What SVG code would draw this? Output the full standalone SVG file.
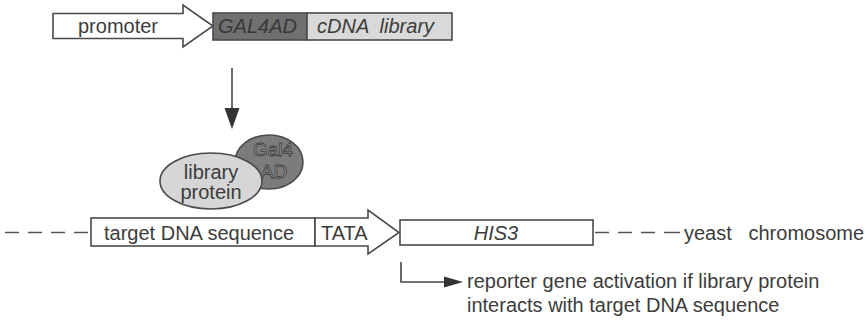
<svg xmlns="http://www.w3.org/2000/svg" width="868" height="321" viewBox="0 0 868 321">
  <style>
    .t { font-family: "Liberation Sans", Arial, sans-serif; font-size: 20px; fill: #3c3c3c; }
    .i { font-style: italic; }
    .box { stroke: #4a4a4a; stroke-width: 1.6; }
    .ln { stroke: #444; stroke-width: 1.6; fill: none; }
    .dash { stroke: #555; stroke-width: 1.6; stroke-dasharray: 14 9; fill: none; }
    .ad { fill: #a4a4a4; stroke: #3a3a3a; stroke-width: 0.8; font-size: 19px; }
  </style>
  <rect width="868" height="321" fill="#ffffff"/>

  <!-- expression construct: promoter + GAL4AD-cDNA fusion -->
  <g id="promoter">
    <polygon class="box" fill="#ffffff" points="53,13.5 183,13.5 183,5 213,26 183,47 183,38.5 53,38.5"/>
    <text class="t" x="78" y="33">promoter</text>
  </g>
  <g id="gal4ad-segment">
    <rect class="box" x="213" y="13" width="94" height="27" fill="#707070"/>
    <text class="t i" x="218" y="33" style="fill:#383838">GAL4AD</text>
  </g>
  <g id="cdna-library">
    <rect class="box" x="307" y="13" width="145" height="27" fill="#d9d9d9"/>
    <text class="t i" x="317" y="33" xml:space="preserve">cDNA  library</text>
  </g>

  <!-- fusion protein -->
  <g id="gal4-ad">
    <ellipse cx="269" cy="162" rx="34" ry="27" fill="#7c7c7c" stroke="#4a4a4a" stroke-width="1.6"/>
    <text class="t ad" x="273" y="156" text-anchor="middle">Gal4</text>
    <text class="t ad" x="274" y="178" text-anchor="middle">AD</text>
  </g>
  <g id="library-protein">
    <ellipse cx="211" cy="181" rx="51" ry="28" fill="#d6d6d6" stroke="#4a4a4a" stroke-width="1.6"/>
    <text class="t" x="211" y="179" text-anchor="middle">library</text>
    <text class="t" x="211" y="199" text-anchor="middle">protein</text>
  </g>

  <!-- reporter locus on the chromosome -->
  <g id="target-dna">
    <rect class="box" x="91" y="218" width="224" height="28" fill="#ffffff"/>
    <text class="t" x="104" y="240">target DNA sequence</text>
  </g>
  <g id="tata">
    <polygon class="box" fill="#ffffff" points="315,218 368,218 368,210 399,232.5 368,254 368,246 315,246"/>
    <text class="t" x="321" y="240">TATA</text>
  </g>
  <g id="his3">
    <rect class="box" x="400" y="220" width="193" height="25" fill="#ffffff"/>
    <text class="t i" x="496" y="240" text-anchor="middle">HIS3</text>
  </g>
  <g id="chromosome-label">
    <text class="t" x="684" y="240" xml:space="preserve">yeast   chromosome</text>
  </g>
  <g id="reporter-note">
    <text class="t" x="467" y="288">reporter gene activation if library protein</text>
    <text class="t" x="467" y="312">interacts with target DNA sequence</text>
  </g>

  <!-- connectors -->
  <g id="connectors">
    <line class="dash" x1="5" y1="232.5" x2="91" y2="232.5"/>
    <line class="dash" x1="593" y1="232.5" x2="683" y2="232.5" style="stroke-dasharray:0 2 14 9 14 9 14 9 14"/>
    <line class="ln" x1="232" y1="68" x2="232" y2="110"/>
    <polygon points="224.5,108 239.5,108 232,129" fill="#333"/>
    <polyline class="ln" points="401,262 401,282 446,282"/>
    <polygon points="444,276.5 463,282 444,287.5" fill="#333"/>
  </g>
</svg>
